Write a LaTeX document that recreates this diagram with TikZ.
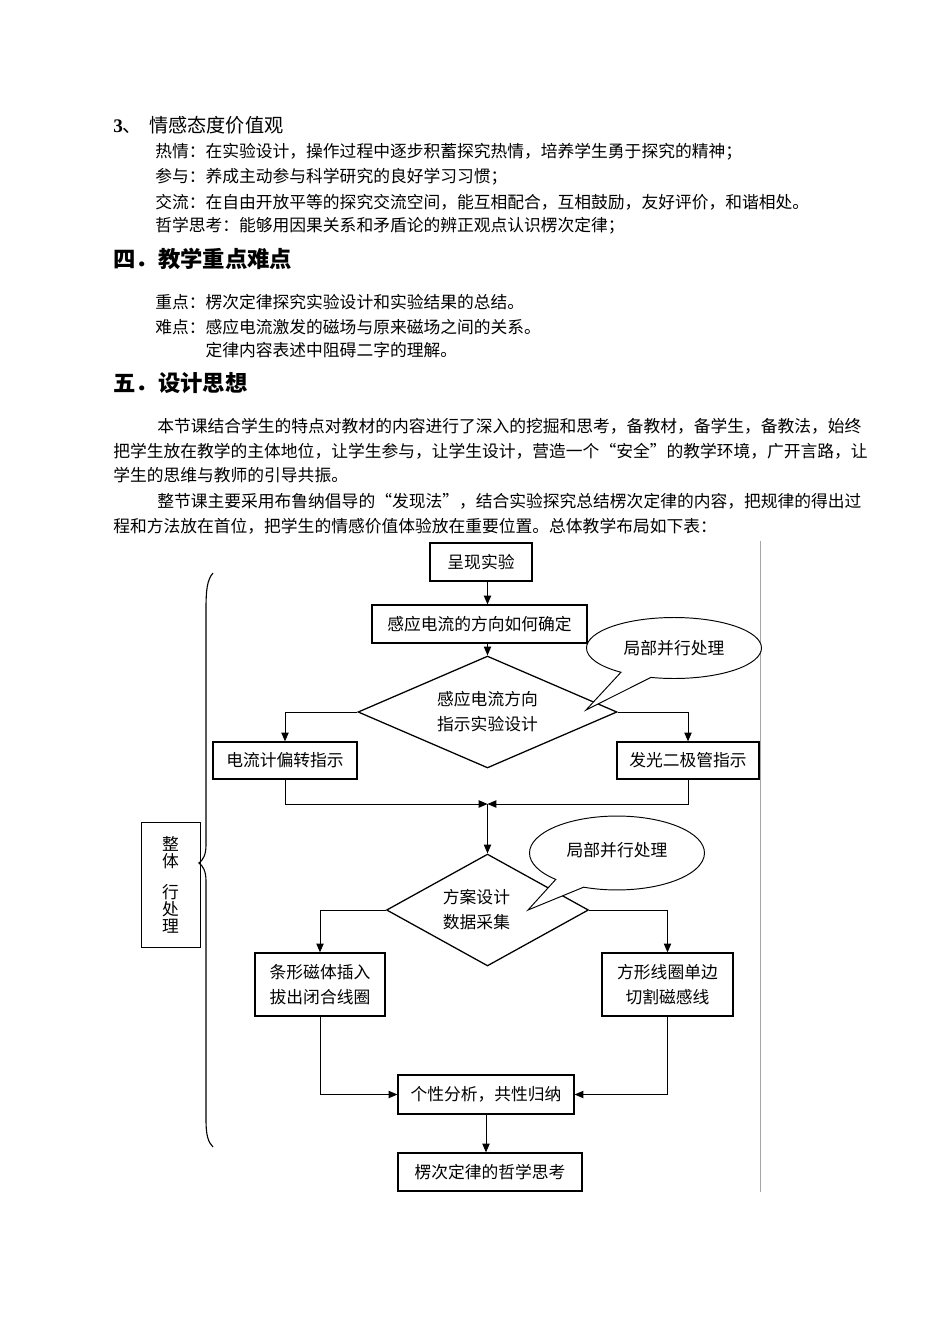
\documentclass[tikz,border=0pt]{standalone}
\usepackage{fontspec}
\setmainfont{Liberation Serif}
\newfontfamily\cjk{Noto Sans CJK SC}
\usetikzlibrary{shapes.geometric,shapes.callouts,arrows.meta}

\begin{document}
\begin{tikzpicture}[x=0.6263pt, y=-0.6263pt,
    every node/.style={inner sep=0pt, font=\cjk\fontsize{10.5pt}{15.7pt}\selectfont},
    body/.style={anchor=west},
    head/.style={anchor=west, font=\cjk\bfseries\fontsize{14pt}{16pt}\selectfont},
    stepbox/.style={draw, line width=0.8pt, align=center},
    choice/.style={draw, diamond, line width=0.8pt, align=center},
    bubble/.style={draw, fill=white, ellipse callout, line width=0.6pt, minimum width=109.6pt, callout pointer arc=22},
    arr/.style={line width=0.6pt, -{Triangle[length=5.5pt, width=4.6pt]}}]

\useasboundingbox (0,0) rectangle (950,1344);

\node[body, font=\cjk\fontsize{12pt}{14pt}\selectfont] (h3) at (113,125) {{\rmfamily\bfseries 3}、\hspace{4.5pt}情感态度价值观};
\foreach \ypos/\txt in {152/热情：在实验设计，操作过程中逐步积蓄探究热情，培养学生勇于探究的精神；,
                        177/参与：养成主动参与科学研究的良好学习习惯；,
                        202/交流：在自由开放平等的探究交流空间，能互相配合，互相鼓励，友好评价，和谐相处。,
                        226/哲学思考：能够用因果关系和矛盾论的辨正观点认识楞次定律；} {
    \node[body] (a\ypos) at (155,\ypos) {\txt};
}

\node[head] (h4) at (113,259) {四．教学重点难点};
\node[body] (k1) at (155,302) {重点：楞次定律探究实验设计和实验结果的总结。};
\node[body] (k2) at (155,327) {难点：感应电流激发的磁场与原来磁场之间的关系。};
\node[body] (k3) at (155,350) {\phantom{难点：}定律内容表述中阻碍二字的理解。};

\node[head] (h5) at (113,383) {五．设计思想};
\foreach \xpos/\ypos/\txt in {157/426/本节课结合学生的特点对教材的内容进行了深入的挖掘和思考，备教材，备学生，备教法，始终,
                              113/451/把学生放在教学的主体地位，让学生参与，让学生设计，营造一个“安全”的教学环境，广开言路，让,
                              113/475/学生的思维与教师的引导共振。,
                              157/501/整节课主要采用布鲁纳倡导的“发现法”，结合实验探究总结楞次定律的内容，把规律的得出过,
                              113/526/程和方法放在首位，把学生的情感价值体验放在重要位置。总体教学布局如下表：} {
    \node[body] (p\ypos) at (\xpos,\ypos) {\txt};
}

\draw[gray!70, line width=0.5pt] (760,541) -- (760,1192);

\node[stepbox, minimum width=63.9pt, minimum height=23.8pt] (show) at (481,562) {呈现实验};
\node[stepbox, minimum width=134.7pt, minimum height=23.8pt] (how) at (479.5,624) {感应电流的方向如何确定};
\node[choice, minimum width=162.2pt, minimum height=70.1pt, aspect=2.3] (d1) at (487.5,712) {感应电流方向\\指示实验设计};
\node[stepbox, minimum width=90.2pt, minimum height=23.2pt] (meter) at (285,760.5) {电流计偏转指示};
\node[stepbox, minimum width=88.9pt, minimum height=23.2pt] (diode) at (688,760.5) {发光二极管指示};
\coordinate (join) at (487.5,804);
\node[choice, minimum width=126.5pt, minimum height=70.1pt, aspect=1.8] (d2) at (487.5,910) {\hspace*{-13.8pt}方案设计\\\hspace*{-13.8pt}数据采集};
\node[stepbox, minimum width=81.4pt, minimum height=39.5pt] (magnet) at (320,984.5) {条形磁体插入\\拔出闭合线圈};
\node[stepbox, minimum width=82pt, minimum height=39.5pt] (coil) at (667.5,984.5) {方形线圈单边\\切割磁感线};
\node[stepbox, minimum width=110.2pt, minimum height=24.4pt] (sum) at (486,1094.5) {个性分析，共性归纳};
\node[stepbox, minimum width=115.2pt, minimum height=23.8pt] (law) at (490,1172) {楞次定律的哲学思考};

\draw[arr] (show.south -| d1.north) -- (how.north -| d1.north);
\draw[arr] (how.south -| d1.north) -- (d1.north);
\draw[arr] (d1.west) -| (meter.north);
\draw[arr] (d1.east) -| (diode.north);
\draw[arr] (meter.south) |- (join);
\draw[arr] (diode.south) |- (join);
\draw[arr] (join) -- (d2.north);
\draw[arr] (d2.west) -| (magnet.north);
\draw[arr] (d2.east) -| (coil.north);
\draw[arr] (magnet.south) |- (sum.west);
\draw[arr] (coil.south) |- (sum.east);
\draw[arr] (sum.south) -- (sum.south |- law.north);

\coordinate (tip1) at (586,710);
\node[bubble, minimum height=38.2pt, callout absolute pointer={(tip1)}] (note1) at (674,648) {局部并行处理};
\coordinate (tip2) at (528,910);
\node[bubble, minimum height=46.3pt, callout absolute pointer={(tip2)}] (note2) at (617,853) {\raisebox{5pt}{局部并行处理}};

\node[draw, line width=0.6pt, minimum width=36.95pt, minimum height=78.3pt, align=center,
      font=\cjk\fontsize{10.5pt}{10.6pt}\selectfont] (whole) at (170.5,884.5) {整\\体\\[8.8pt]行\\处\\理};
\draw[line width=0.7pt] (213,573) .. controls (207,580) and (206,590) .. (206,610) -- (206,845)
    .. controls (206,855) and (203,860) .. (199,863) .. controls (203,866) and (206,871) .. (206,881)
    -- (206,1120) .. controls (206,1135) and (208,1142) .. (213,1147);
\end{tikzpicture}
\end{document}
